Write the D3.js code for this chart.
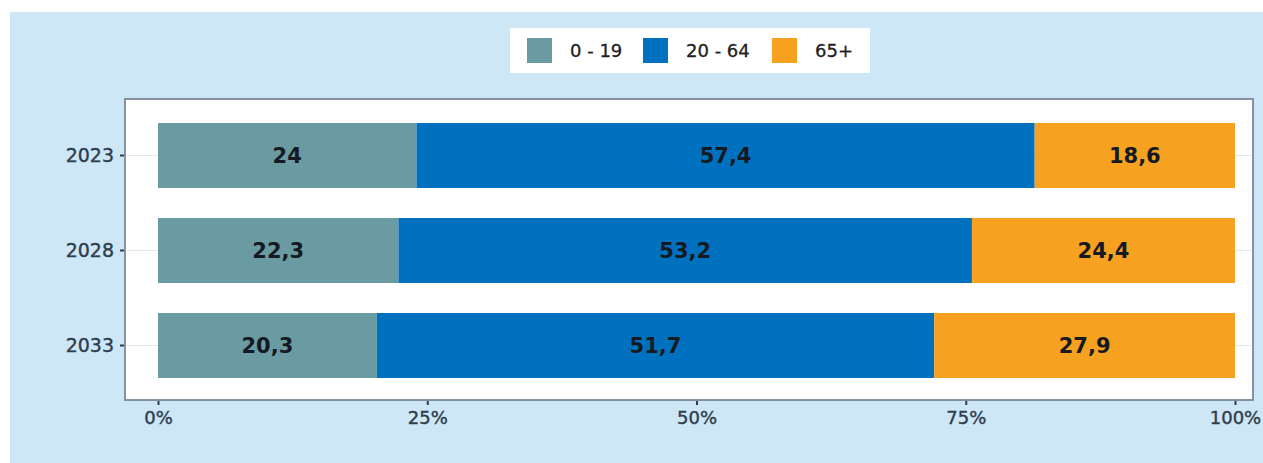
<!DOCTYPE html>
<html><head><meta charset="utf-8">
<script src="https://cdn.jsdelivr.net/npm/d3@7"></script>
<style>html,body{margin:0;padding:0;background:#fff;}</style>
</head><body>
<svg id="chart" width="1263" height="463"></svg>
<script>
const years = ["2023", "2028", "2033"];
const groups = ["0 - 19", "20 - 64", "65+"];
const share0to19 = [24, 22.3, 20.3];
const share20to64 = [57.4, 53.2, 51.7];
const share65plus = [18.6, 24.4, 27.9];
const xTickValues = [0, 0.25, 0.5, 0.75, 1];
const colors = ["#6a9ba3", "#0071bf", "#f6a11f"];

const series = [share0to19, share20to64, share65plus];
const rows = years.map((y, i) => {
  const o = {year: y};
  groups.forEach((g, j) => o[g] = series[j][i]);
  return o;
});
const stacked = d3.stack().keys(groups).offset(d3.stackOffsetExpand)(rows);

const svg = d3.select("#chart");
svg.append("rect").attr("x", 10).attr("y", 12).attr("width", 1253).attr("height", 451).attr("fill", "#cde7f7");

const panel = {x0: 125, x1: 1253, y0: 99, y1: 400};
const x = d3.scaleLinear().domain([0, 1]).range([158, 1235]);
const y = d3.scaleBand().domain(years).range([108, 393]).paddingInner(0.316).paddingOuter(0.158);

svg.append("rect").attr("x", panel.x0).attr("y", panel.y0).attr("width", panel.x1 - panel.x0).attr("height", panel.y1 - panel.y0).attr("fill", "#fff");

// grid lines
svg.append("g").selectAll("line").data(years).join("line")
  .attr("x1", panel.x0).attr("x2", panel.x1)
  .attr("y1", d => y(d) + y.bandwidth() / 2).attr("y2", d => y(d) + y.bandwidth() / 2)
  .attr("stroke", "#e6e9ec").attr("stroke-width", 1);

const color = d3.scaleOrdinal().domain(groups).range(colors);
const layers = svg.append("g").selectAll("g").data(stacked).join("g").attr("fill", d => color(d.key));
layers.selectAll("rect").data(d => d).join("rect")
  .attr("x", d => x(d[0])).attr("width", d => x(d[1]) - x(d[0]))
  .attr("y", d => y(d.data.year)).attr("height", y.bandwidth());

// labels
svg.append("g").selectAll("g").data(stacked).join("g")
  .selectAll("text").data(d => d.map(v => ({v, key: d.key}))).join("text")
  .attr("x", d => (x(d.v[0]) + x(d.v[1])) / 2)
  .attr("y", d => y(d.v.data.year) + y.bandwidth() / 2)
  .attr("dy", "0.36em").attr("text-anchor", "middle")
  .attr("font-family", "'DejaVu Sans', sans-serif").attr("font-weight", "bold").attr("font-size", 21)
  .attr("fill", "#151a22")
  .text(d => String(d.v.data[d.key]).replace(".", ","));

// panel border
svg.append("rect").attr("x", panel.x0).attr("y", panel.y0).attr("width", panel.x1 - panel.x0).attr("height", panel.y1 - panel.y0)
  .attr("fill", "none").attr("stroke", "#6f7b86").attr("stroke-width", 1.6);

// axes
const xAxis = d3.axisBottom(x).tickValues(xTickValues).tickFormat(d3.format(".0%")).tickSize(4).tickPadding(6);
const gx = svg.append("g").attr("transform", `translate(0,${panel.y1 + 1})`).call(xAxis);
const yAxis = d3.axisLeft(y).tickSize(4).tickPadding(6);
const gy = svg.append("g").attr("transform", `translate(${panel.x0 - 1},0)`).call(yAxis);
[gx, gy].forEach(g => {
  g.select(".domain").remove();
  g.selectAll(".tick line").attr("stroke", "#2f3d4c").attr("stroke-width", 2);
  g.selectAll(".tick text").attr("fill", "#2f3d4c").attr("stroke", "#2f3d4c").attr("stroke-width", 0.4)
    .attr("font-family", "'DejaVu Sans', sans-serif");
});
gx.selectAll(".tick text").attr("font-size", 18);
gy.selectAll(".tick text").attr("font-size", 19);

// legend
const lg = svg.append("g");
lg.append("rect").attr("x", 510).attr("y", 28).attr("width", 360).attr("height", 45).attr("fill", "#fff");
const legendX = [527, 643, 772];
groups.forEach((g, i) => {
  lg.append("rect").attr("x", legendX[i]).attr("y", 38).attr("width", 25).attr("height", 25).attr("fill", colors[i]);
  lg.append("text").attr("x", legendX[i] + 43).attr("y", 51).attr("dy", "0.36em")
    .attr("font-family", "'DejaVu Sans', sans-serif").attr("font-size", 18).attr("fill", "#1e1e1e")
    .attr("stroke", "#1e1e1e").attr("stroke-width", 0.3).text(g);
});
</script>
</body></html>
